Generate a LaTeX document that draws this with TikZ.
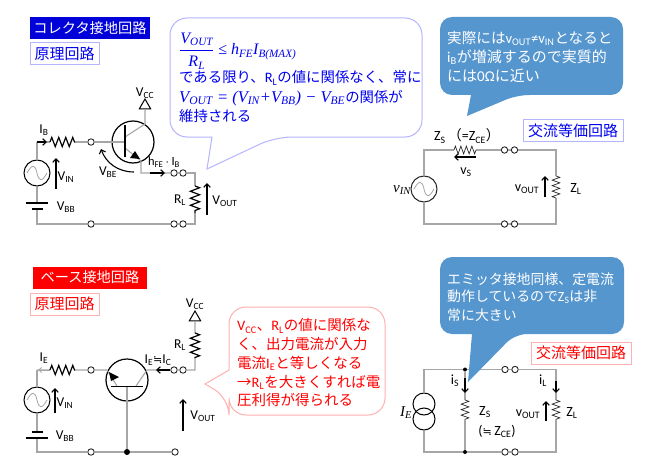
\documentclass[tikz,border=0pt]{standalone}
\usepackage{fontspec}
\setmainfont{Carlito}
\newfontfamily\jp{Noto Sans CJK JP}
\newfontfamily\lat{Carlito}
\newfontfamily\dejav{DejaVu Sans}
\newfontfamily\cam{Liberation Serif}
\usetikzlibrary{arrows.meta,decorations.pathmorphing,shapes.geometric}
\definecolor{wire}{HTML}{A6A6A6}
\definecolor{bluetext}{HTML}{0000F0}
\definecolor{blueedge}{HTML}{B4B4FF}
\definecolor{rededge}{HTML}{FFB0B0}
\definecolor{callfill}{HTML}{5596CF}
\newcommand\fs[1]{\fontsize{#1}{#1}\selectfont}
\newcommand\mv[2]{{\cam\itshape #1\textsubscript{#2}}}
\tikzset{
  x=1pt,y=-1pt,
  wr/.style={draw=wire,line width=1.1pt},
  res/.style={draw=black,line width=1.2pt,decorate,decoration={zigzag,amplitude=4.6pt,segment length=7pt}},
  thinres/.style={draw=black!85,line width=.7pt,decorate,decoration={zigzag,amplitude=3.8pt,segment length=5.5pt}},
  term/.style={circle,draw=black!85,line width=.9pt,fill=white,inner sep=0,minimum size=6.4pt},
  jn/.style={circle,fill=black,inner sep=0,minimum size=#1},
  src/.style={circle,draw=black,line width=1pt,fill=white,inner sep=0,minimum size=26pt},
  bjt/.style={circle,draw=black,line width=1.2pt,inner sep=0,minimum size=42pt},
  vtri/.style={regular polygon,regular polygon sides=3,draw=black,line width=1pt,inner sep=0,minimum size=13pt},
  lab/.style={inner sep=0,text=black,font=\fs{13.5}\lat},
  eq/.style={inner sep=0,text=black,font=\fs{14}\lat},
  arr/.style={draw=black,line width=1.1pt,-{Straight Barb[length=3.5pt,width=6.5pt]}},
  jl/.style={inner sep=0,anchor=west,font=\fs{14.4}\jp},
  tag/.style={line width=1pt,inner sep=0,minimum height=22pt,font=\fs{15}\jp},
  ttl/.style={inner sep=0,minimum height=22pt,font=\fs{14.2}\jp,text=white},
  plate/.style={draw=black,line width=#1},
  sine/.style={draw=wire,line width=.8pt},
}
\newcommand\sinewave[1]{\draw[sine] ([xshift=-10pt]#1.center) .. controls ([xshift=-5pt,yshift=9pt]#1.center) and ([xshift=-2pt,yshift=9pt]#1.center) .. (#1.center) .. controls ([xshift=2pt,yshift=-9pt]#1.center) and ([xshift=5pt,yshift=-9pt]#1.center) .. ([xshift=10pt]#1.center);}
\begin{document}
\begin{tikzpicture}
\useasboundingbox (0,0) rectangle (660,468);
\fill[white] (0,0) rectangle (660,468);

% ---------- tags
\node[ttl,fill=blue!85!black,minimum width=120pt] (t1) at (90,28) {コレクタ接地回路};
\node[tag,draw=blueedge,text=bluetext,minimum width=69pt] (t2) at (64.5,54) {原理回路};
\node[tag,draw=blueedge,text=bluetext,minimum width=100pt] (t3) at (573,130.5) {交流等価回路};
\node[ttl,fill=red,minimum width=114pt] (t4) at (90,277.5) {ベース接地回路};
\node[tag,draw=rededge,text=red,minimum width=69pt] (t5) at (64.5,304) {原理回路};
\node[tag,draw=rededge,text=red,minimum width=100pt] (t6) at (581,353) {交流等価回路};

% ---------- collector-grounded principle circuit
\coordinate (a1) at (37,142);
\coordinate (a2) at (50,142);
\coordinate (a3) at (75,142);
\node[term] (a4) at (91,142) {};
\coordinate (b1) at (125,142);
\coordinate (c1) at (125,137);
\coordinate (c2) at (145,124);
\coordinate (e1) at (125,148);
\coordinate (e2) at (141,161);
\coordinate (e3) at (141,173);
\node[term] (a5) at (174,173) {};
\node[term] (a6) at (183,173) {};
\coordinate (r1) at (195,173);
\coordinate (r2) at (195,186);
\coordinate (r3) at (195,213);
\coordinate (r4) at (195,224);
\node[term] (a7) at (183,224) {};
\node[term] (a8) at (174,224) {};
\node[term] (a9) at (91,224) {};
\coordinate (a10) at (37,224);
\node[src] (s1) at (37,173) {};
\coordinate (bb1) at (37,203);
\coordinate (bb2) at (37,209);
\node[vtri] (v1) at (145,105.5) {};
\node[bjt] (q1) at (133,142) {};
\draw[wr] (a1) -- (a2) (a3) -- (a4) (a4) -- (b1);
\draw[wr] (a1) -- (s1) (s1) -- (bb1) (bb2) -- (a10) -- (a9) (a9) -- (a8) (a7) -- (r4) -- (r3);
\draw[wr] (a6) -- (r1) -- (r2) (a5) -- (a6);
\draw[wr] (c1) -- (c2) -- (v1.south);
\draw[wr] (e1) -- (e2) -- (e3) -- (a5);
\draw[wr] (a7) -- (a8);
\draw[res] (a2) -- (a3);
\draw[res] (r2) -- (r3);
\draw[plate=1.2pt] (125,125) -- (125,157);
\fill[black] (135,151) -- (140,159) -- (130,158) -- cycle;
\draw[plate=1.2pt] (26,203) -- (48,203);
\draw[plate=2.2pt] (32,209) -- (43,209);
\sinewave{s1}
\draw[arr] (37,142) -- (47,142);
\draw[arr] (56,189) -- (56,158);
\draw[arr] (134,172) .. controls (118,172) and (106,163) .. (101,149);
\draw[arr] (150,173) -- (165,173);
\draw[arr] (207,215) -- (207,183);
\node[lab] (l1) at (44,130) {I\textsubscript{B}};
\node[lab] (l2) at (66,177) {V\textsubscript{IN}};
\node[lab] (l3) at (66,207) {V\textsubscript{BB}};
\node[lab] (l4) at (145,93) {V\textsubscript{CC}};
\node[lab] (l5) at (108,172) {V\textsubscript{BE}};
\node[lab,font=\fs{12.5}\lat] (l6) at (164,162) {h\textsubscript{FE}\,{\jp\fs{8}･}\,I\textsubscript{B}};
\node[lab] (l7) at (180,200) {R\textsubscript{L}};
\node[lab] (l8) at (225,201) {V\textsubscript{OUT}};

% ---------- blue outline callout
\draw[draw=blueedge,fill=white,line width=1pt] (296,18) [rounded corners=17pt] -- (422,18) -- (422,137) -- (275,137) [sharp corners] -- (207,169) -- (212,137) [rounded corners=17pt] -- (170,137) -- (170,18) -- cycle;
\node[inner sep=0,anchor=west,text=bluetext,font=\fs{16}\cam] (f1) at (179,51) {$\displaystyle\frac{\mbox{\mv{V}{OUT}}}{\mbox{\mv{R}{L}}}$\ ≤\ {\itshape h}\textsubscript{\itshape FE}{\itshape I}\textsubscript{\itshape B(MAX)}};
\node[jl,text=bluetext] (f2) at (179,78) {である限り、{\lat R\textsubscript{L}}の値に関係なく、常に};
\node[jl,text=bluetext] (f3) at (179,98) {{\cam\fs{16.5}\itshape V\textsubscript{OUT}\ =\ (V\textsubscript{IN}+V\textsubscript{BB})\ −\ V\textsubscript{BE}}の関係が};
\node[jl,text=bluetext] (f4) at (179,116) {維持される};

% ---------- collector AC equivalent
\coordinate (g1) at (424,150);
\coordinate (g2) at (454,150);
\coordinate (g3) at (476,150);
\node[term] (g4) at (504.5,150) {};
\node[term] (g5) at (514.5,150) {};
\coordinate (g6) at (556,150);
\coordinate (g7) at (556,176);
\coordinate (g8) at (556,198);
\coordinate (g9) at (556,224);
\node[term] (g10) at (514.5,224) {};
\node[term] (g11) at (504.5,224) {};
\coordinate (g12) at (424,224);
\node[src,draw=black!85] (s2) at (424,189) {};
\draw[wr] (s2) -- (g1) -- (g2) (g3) -- (g4) (g4) -- (g5) (g5) -- (g6) -- (g7) (g8) -- (g9) -- (g10) (g10) -- (g11) (g11) -- (g12) -- (s2);
\draw[thinres] (g2) -- (g3);
\draw[thinres] (g7) -- (g8);
\sinewave{s2}
\draw[arr] (476,157) -- (454,157);
\draw[arr] (545,197) -- (545,176);
\node[eq] (m1) at (467,136) {Z\textsubscript{S}\,{\jp（}=Z\textsubscript{CE}{\jp）}};
\node[eq] (m2) at (466,172) {v\textsubscript{S}};
\node[eq,font=\fs{15}\cam] (m3) at (402,190) {\itshape v\textsubscript{IN}};
\node[eq] (m4) at (527,189) {v\textsubscript{OUT}};
\node[eq] (m5) at (576,189) {Z\textsubscript{L}};

% ---------- filled callout top
\draw[draw=none,fill=callfill] (530,17) [rounded corners=12pt] -- (623,17) -- (623,95) -- (517,95) [sharp corners] -- (467,116) -- (471,95) [rounded corners=12pt] -- (440,95) -- (440,17) -- cycle;
\node[jl,text=white,font=\fs{14.6}\jp] (n1) at (447,38) {実際には{\lat v\textsubscript{OUT}≠v\textsubscript{IN}}となると};
\node[jl,text=white,font=\fs{15}\jp] (n2) at (447,57) {{\lat i\textsubscript{B}}が増減するので実質的};
\node[jl,text=white,font=\fs{15}\jp] (n3) at (447,76) {には{\lat 0Ω}に近い};

% ---------- base-grounded principle circuit
\coordinate (h1) at (37,370);
\coordinate (h2) at (50,370);
\coordinate (h3) at (75,370);
\node[term] (h4) at (91,370) {};
\coordinate (h5) at (107,370);
\coordinate (h6) at (117,386);
\coordinate (h7) at (136,386);
\coordinate (h8) at (147,370);
\node[term] (h9) at (174,370) {};
\node[term] (h10) at (183,370) {};
\coordinate (h11) at (195,370);
\coordinate (h12) at (195,358);
\coordinate (h13) at (195,333);
\node[vtri] (v2) at (195,317.5) {};
\node[bjt] (q2) at (127,380) {};
\coordinate (h14) at (127,386);
\node[jn=6pt] (h15) at (127,452) {};
\node[term] (h16) at (91,452) {};
\node[term] (h17) at (175,452) {};
\coordinate (h18) at (37,452);
\node[src] (s3) at (37,400) {};
\coordinate (bb3) at (37,432);
\coordinate (bb4) at (37,438);
\draw[wr] (h1) -- (h2) (h3) -- (h4) (h4) -- (h5) -- (h6) (h7) -- (h8) -- (h9) (h9) -- (h10) (h10) -- (h11) -- (h12) (h13) -- (v2.south);
\draw[wr] (h14) -- (h15) (h15) -- (h16) (h15) -- (h17) (h16) -- (h18) -- (bb4) (bb3) -- (s3) (s3) -- (h1);
\draw[res] (h2) -- (h3);
\draw[res] (h13) -- (h12);
\draw[plate=1.2pt] (111,386.5) -- (143,386.5);
\fill[black] (109,372) -- (119,377) -- (111,381) -- cycle;
\draw[plate=2.2pt] (32,432) -- (43,432);
\draw[plate=1.2pt] (26,438) -- (48,438);
\sinewave{s3}
\draw[draw=wire,line width=.8pt,-{Straight Barb[length=3pt,width=5pt]}] (50,370) -- (38,370);
\draw[arr] (55,413) -- (55,388);
\draw[arr] (170,370) -- (156,370);
\draw[arr] (183,431) -- (183,399);
\node[lab] (o1) at (44,358) {I\textsubscript{E}};
\node[lab] (o2) at (65,403) {V\textsubscript{IN}};
\node[lab] (o3) at (65,436) {V\textsubscript{BB}};
\node[lab] (o4) at (195,304) {V\textsubscript{CC}};
\node[lab] (o5) at (180,345) {R\textsubscript{L}};
\node[lab] (o6) at (158,360) {I\textsubscript{E}{\dejav\fs{11}≒}I\textsubscript{C}};
\node[lab] (o7) at (203,416) {V\textsubscript{OUT}};

% ---------- red outline callout
\draw[draw=rededge,fill=white,line width=1pt] (300,307) [rounded corners=17pt] -- (385,307) -- (385,415) -- (229,415) -- (229,398) [sharp corners] -- (205,384) -- (229,370) [rounded corners=17pt] -- (229,307) -- cycle;
\node[jl,text=red,font=\fs{14.5}\jp] (p1) at (237,326) {{\lat V\textsubscript{CC}}、{\lat R\textsubscript{L}}の値に関係な};
\node[jl,text=red,font=\fs{14.5}\jp] (p2) at (237,344) {く、出力電流が入力};
\node[jl,text=red,font=\fs{14.5}\jp] (p3) at (237,363) {電流{\lat I\textsubscript{E}}と等しくなる};
\node[jl,text=red,font=\fs{14.5}\jp] (p4) at (237,382) {→{\lat R\textsubscript{L}}を大きくすれば電};
\node[jl,text=red,font=\fs{14.5}\jp] (p5) at (237,400) {圧利得が得られる};

% ---------- base AC equivalent
\coordinate (k1) at (424,369.5);
\node[jn=4pt] (k2) at (465,369.5) {};
\node[term] (k3) at (505,369.5) {};
\node[term] (k4) at (515,369.5) {};
\coordinate (k5) at (556,369.5);
\coordinate (k6) at (556,400);
\coordinate (k7) at (556,421);
\coordinate (k8) at (556,452);
\node[term] (k9) at (515,452) {};
\node[term] (k10) at (505,452) {};
\node[jn=4pt] (k11) at (465,452) {};
\coordinate (k12) at (424,452);
\coordinate (k13) at (465,400);
\coordinate (k14) at (465,421);
\node[circle,draw=black,line width=1pt,inner sep=0,minimum size=22pt] (cs1) at (424,404) {};
\node[circle,draw=black,line width=1pt,inner sep=0,minimum size=22pt] (cs2) at (424,419) {};
\draw[wr] (cs1) -- (k1) -- (k2) (k2) -- (k3) (k3) -- (k4) (k4) -- (k5) -- (k6) (k7) -- (k8) -- (k9) (k9) -- (k10) (k10) -- (k11) (k11) -- (k12) -- (cs2);
\draw[wr] (k2) -- (k13) (k14) -- (k11);
\draw[thinres] (k13) -- (k14);
\draw[thinres] (k6) -- (k7);
\draw[arr] (465,378) -- (465,393);
\draw[arr] (556,381) -- (556,393);
\draw[arr] (546,421) -- (546,401);
\node[eq] (u1) at (455,381) {i\textsubscript{S}};
\node[eq] (u2) at (543,381) {i\textsubscript{L}};
\node[eq,font=\fs{15}\cam] (u3) at (406,413) {\itshape I\textsubscript{E}};
\node[eq] (u4) at (485,412) {Z\textsubscript{S}};
\node[eq] (u5) at (497,431) {({\dejav\fs{11}≒}\,Z\textsubscript{CE})};
\node[eq] (u6) at (528,414) {v\textsubscript{OUT}};
\node[eq] (u7) at (572,413) {Z\textsubscript{L}};

% ---------- filled callout bottom
\draw[draw=none,fill=callfill] (530,257) [rounded corners=12pt] -- (624,257) -- (624,334) -- (515,334) [sharp corners] -- (468,382) -- (472,334) [rounded corners=12pt] -- (440,334) -- (440,257) -- cycle;
\node[jl,text=white,font=\fs{13.9}\jp] (w1) at (447,279) {エミッタ接地同様、定電流};
\node[jl,text=white,font=\fs{13.9}\jp] (w2) at (447,297) {動作しているので{\lat Z\textsubscript{S}}は非};
\node[jl,text=white,font=\fs{13.9}\jp] (w3) at (447,315) {常に大きい};
\end{tikzpicture}
\end{document}
